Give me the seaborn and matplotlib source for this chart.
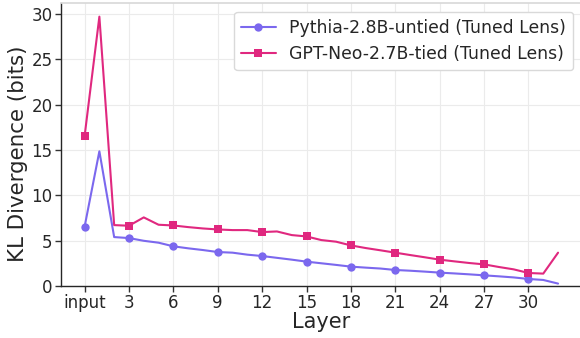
import matplotlib
matplotlib.use("Agg")
import matplotlib.pyplot as plt
import seaborn as sns
import pandas as pd

# Per-layer KL divergence (bits) of each lens against the final output
layers = list(range(33))
tick_positions = [0, 3, 6, 9, 12, 15, 18, 21, 24, 27, 30]
tick_labels = ["input", "3", "6", "9", "12", "15", "18", "21", "24", "27", "30"]

pythia_label = "Pythia-2.8B-untied (Tuned Lens)"
pythia_kl = [6.52, 14.85, 5.39, 5.28, 4.98, 4.77, 4.37, 4.15, 3.96, 3.74, 3.67,
             3.45, 3.30, 3.10, 2.90, 2.68, 2.50, 2.32, 2.13, 2.02, 1.92, 1.76,
             1.68, 1.58, 1.47, 1.38, 1.28, 1.17, 1.06, 0.94, 0.77, 0.66, 0.26]

neo_label = "GPT-Neo-2.7B-tied (Tuned Lens)"
neo_kl = [16.5, 29.7, 6.71, 6.64, 7.56, 6.75, 6.67, 6.49, 6.34, 6.23, 6.16,
          6.16, 5.94, 6.01, 5.61, 5.46, 5.06, 4.88, 4.47, 4.18, 3.93, 3.67,
          3.41, 3.16, 2.90, 2.71, 2.53, 2.38, 2.09, 1.83, 1.43, 1.36, 3.67]

df = pd.DataFrame({
    "layer": layers * 2,
    "kl": pythia_kl + neo_kl,
    "model": [pythia_label] * len(layers) + [neo_label] * len(layers),
})

sns.set_theme(style="whitegrid")
plt.rcParams["font.family"] = ["DejaVu Sans"]

fig = plt.figure(figsize=(5.8, 3.38), dpi=100)
ax = fig.add_axes([0.105, 0.154, 0.898, 0.837])

colors = {pythia_label: "#7b68ee", neo_label: "#e0287f"}
markers = {pythia_label: "o", neo_label: "s"}
for name in [pythia_label, neo_label]:
    sns.lineplot(data=df[df["model"] == name], x="layer", y="kl", ax=ax,
                 color=colors[name], marker=markers[name], markersize=6,
                 markeredgewidth=0, linewidth=1.5, markevery=3, label=name)

ax.set_xticks(tick_positions)
ax.set_xticklabels(tick_labels)
ax.set_xlim(-1.6, 33.6)
ax.set_ylim(0, 31.2)
ax.set_yticks([0, 5, 10, 15, 20, 25, 30])
ax.tick_params(axis="both", labelsize=12, length=4, width=1, color="0.2",
               pad=2, left=True, bottom=True)
ax.set_xlabel("Layer", fontsize=15, labelpad=0)
ax.set_ylabel("KL Divergence (bits)", fontsize=15.4)
ax.yaxis.set_label_coords(-0.063, 0.466)

for side in ["left", "bottom"]:
    ax.spines[side].set_color("0.15")
    ax.spines[side].set_linewidth(1.0)
for side in ["top", "right"]:
    ax.spines[side].set_color("0.85")
ax.grid(color="0.92", linewidth=0.8)

ax.legend(loc="upper right", fontsize=12.4, frameon=True, framealpha=1,
          edgecolor="0.85", borderaxespad=0.5, handlelength=2.0)

fig.savefig("out.png", dpi=100)
